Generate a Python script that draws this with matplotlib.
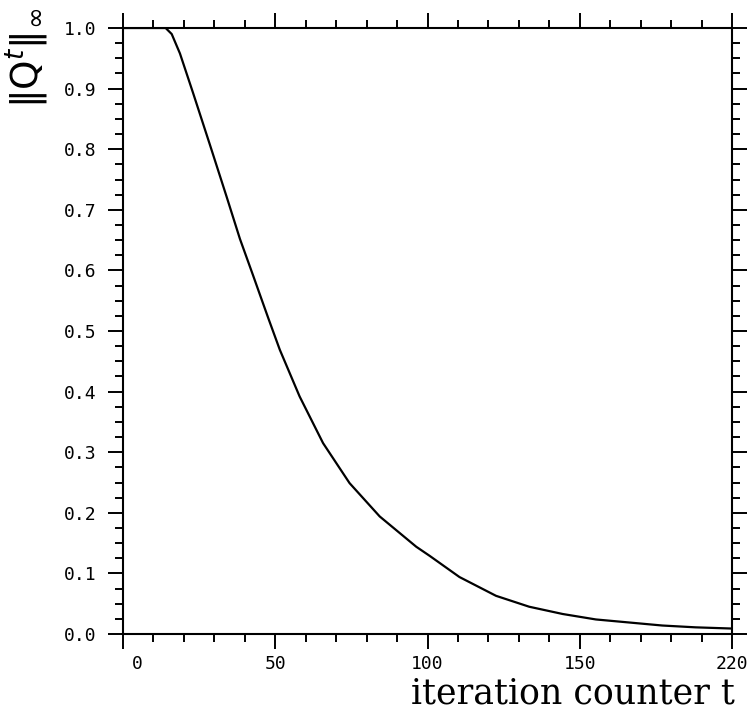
import matplotlib
matplotlib.use("Agg")
import matplotlib.pyplot as plt
from matplotlib.ticker import MultipleLocator, FixedLocator, FixedFormatter
from matplotlib.transforms import ScaledTranslation

# ---- data ----
t_vals = [0, 14, 16, 18.7, 23, 28.5, 34, 38.4, 42.7, 45.6, 47.8, 51.5, 58, 65.7,
          74.4, 84.3, 96.3, 100.7, 110.5, 122.5, 133.4, 144.4, 155.3, 166.2,
          177.1, 188, 200]
q_norm = [1.0, 1.0, 0.99, 0.958, 0.893, 0.808, 0.722, 0.652, 0.592, 0.551, 0.520,
          0.469, 0.392, 0.315, 0.249, 0.194, 0.144, 0.129, 0.094, 0.063, 0.045,
          0.033, 0.024, 0.019, 0.014, 0.011, 0.009]

x_tick_pos = [0, 50, 100, 150, 200]
x_tick_labels = ["0", "50", "100", "150", "220"]
y_tick_pos = [0.0, 0.1, 0.2, 0.3, 0.4, 0.5, 0.6, 0.7, 0.8, 0.9, 1.0]
y_tick_labels = ["0.0", "0.1", "0.2", "0.3", "0.4", "0.5", "0.6", "0.7", "0.8", "0.9", "1.0"]

x_label = "iteration counter t"
y_label = r"$\|\mathrm{Q}^t\|_\infty$"

W, H = 749, 711
fig = plt.figure(figsize=(W / 100, H / 100), dpi=100)
ax = fig.add_axes([123 / W, 1 - 634 / H, (732 - 123) / W, (634 - 28) / H])

ax.plot(t_vals, q_norm, color="black", lw=1.6, solid_capstyle="round",
        solid_joinstyle="round")

ax.set_xlim(0, 200)
ax.set_ylim(0, 1.0)

ax.xaxis.set_major_locator(FixedLocator(x_tick_pos))
ax.xaxis.set_major_formatter(FixedFormatter(x_tick_labels))
ax.xaxis.set_minor_locator(MultipleLocator(10))
ax.yaxis.set_major_locator(FixedLocator(y_tick_pos))
ax.yaxis.set_major_formatter(FixedFormatter(y_tick_labels))
ax.yaxis.set_minor_locator(MultipleLocator(0.025))

for s in ax.spines.values():
    s.set_linewidth(1.5)

ax.tick_params(which="both", direction="out", top=True, right=True,
               width=1.4, color="black")
ax.tick_params(which="major", length=11)
ax.tick_params(which="minor", length=6)
ax.tick_params(axis="y", which="major", pad=8)
ax.tick_params(axis="x", which="major", pad=4)

mono = "DejaVu Sans Mono"
for lab in ax.get_xticklabels() + ax.get_yticklabels():
    lab.set_fontfamily(mono)
    lab.set_fontsize(13)

# first x label sits slightly right of its tick in the reference
xl = ax.get_xticklabels()
xl[0].set_transform(xl[0].get_transform() + ScaledTranslation(0.14, 0, fig.dpi_scale_trans))

fig.text(735 / W, 0.5 / H, x_label, ha="right", va="bottom",
         fontsize=25, family="DejaVu Serif")

fig.text(27 / W, 1 - 58 / H, y_label, rotation=90, ha="center", va="center",
         fontsize=27)

fig.savefig("out.png", dpi=100)
